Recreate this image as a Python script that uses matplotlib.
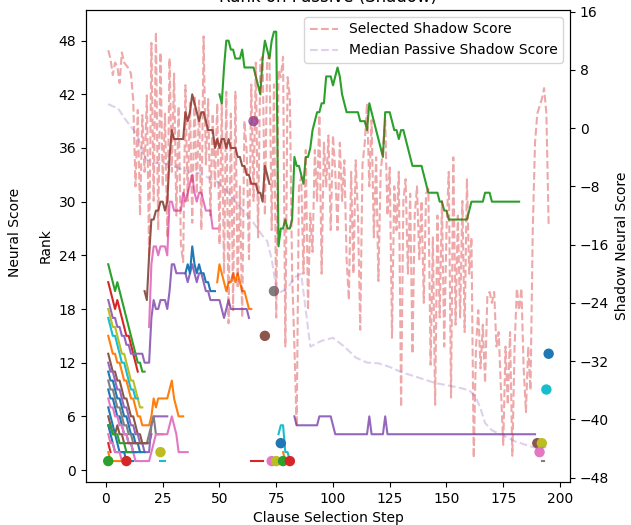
import numpy as np
import matplotlib
matplotlib.use('Agg')
import matplotlib.pyplot as plt
from matplotlib.lines import Line2D

# 数据: selected shadow score, one value per step (1..195)
select_score = [
    10.7, 9.5, 7.3, 9.0, 8.5, 6.2, 10.4, 9.0, 8.6, 8.2, 7.5, 3.8,
    -8.0, 2.5, -12.0, 1.8, -6.0, 4.5, -17.7, 11.7,
    -10.0, 13.2, -14.0, 10.4, -8.0, 2.0, -15.0, 9.6, -6.0, 7.5,
    -12.0, 3.0, -16.0, -18.4, 5.9, -10.0, 3.5, -13.0, 4.5, -9.0,
    3.8, -14.0, 12.6, -5.0, 4.0, -12.0, 2.0, -8.0, 3.4, -16.0,
    3.4, -20.0, 5.0, -26.8, 2.0, -25.0, 5.0, -22.0, -8.0, -26.0,
    1.0, -3.3, -18.0, 6.0, -10.0, 9.0, -15.0, 9.3, 9.8, -12.0,
    9.3, 10.0, -14.0, 6.0, -26.0, 8.0, 7.0, 9.8, -30.0, 7.0,
    4.3, -20.0, -30.0, -41.0, -8.0, -6.7, -20.0, -3.0, -25.0, -11.7,
    -17.0, -3.0, -10.0, 1.8, -20.0, -2.0, -8.0, -1.0, -14.0, -1.0,
    -6.0, -14.0, -2.0, -10.0, -4.4, -18.0, -23.6, -6.0, -20.0, -4.4,
    -12.0, -27.7, -5.0, -2.0, 3.4, -8.0, 1.1, -15.0, -4.0, -21.0,
    -6.0, -3.0, 1.1, -12.0, -5.4, -28.8, -8.0, -14.0, -6.0, -38.3,
    -10.0, -7.0, -20.0, -9.0, -31.0, -12.0, -8.0, -18.0, -10.0, -24.0,
    -9.0, -8.3, -32.5, -15.0, -38.0, -12.0, -26.0, -10.0, -30.0, -14.0,
    -6.0, -37.0, -4.0, -27.0, -12.0, -26.0, -10.0, -28.0, -6.9, -20.0,
    -15.0, -45.3, -30.0, -25.0, -33.0, -27.0, -35.0, -23.0, -22.5, -24.0,
    -22.5, -30.0, -28.0, -36.0, -43.5, -30.0, -38.0, -28.0, -45.0, -30.0,
    -22.0, -25.0, -22.0, -33.0, -39.0, -30.0, -36.0, -14.0, -2.0, 2.0,
    3.0, 4.0, 5.5, 2.0, -13.3,
]

# median passive shadow score
median_steps = [1, 3, 5, 6, 9, 11, 14, 16, 18, 21, 25, 29, 33, 37, 41, 45, 49, 53, 57,
                61, 65, 69, 71, 73, 75, 77, 80, 83, 86, 88, 90, 95, 100, 105, 110, 115,
                120, 125, 130, 135, 140, 145, 150, 155, 160, 163, 165, 167, 170, 175,
                180, 185, 190, 194]
median_score = [3.3, 3.0, 2.8, 2.4, 1.0, 0.2, -1.0, -3.5, -4.3, -4.8, -4.8, -5.1, -5.6,
                -6.0, -6.2, -6.8, -7.4, -8.5, -10.0, -11.5, -13.0, -14.8, -15.5, -18.0,
                -22.0, -22.5, -22.0, -20.5, -20.0, -25.0, -30.0, -29.2, -28.8, -30.0,
                -31.5, -32.2, -32.3, -32.8, -33.5, -34.0, -34.5, -35.0, -35.3, -35.6,
                -36.0, -37.0, -38.5, -40.5, -41.5, -42.2, -43.0, -43.5, -44.0, -43.8]

# rank of each passive clause: first step, ranks per step
path_start = [1, 1, 1, 1, 1, 1, 1, 1, 1, 1, 1, 1, 1, 1, 1, 1, 1, 1, 1,
              24, 17, 19, 35, 49, 50, 64, 76, 78, 83, 192]
path_rank = [
    [23, 22, 21, 20, 21, 20, 19, 18, 17, 16, 15, 14, 13, 12, 12, 11, 11],
    [21, 20, 19, 18, 19, 18, 17, 16, 15, 15, 14, 13, 12, 11],
    [19, 18, 17, 17, 16, 16, 15, 15, 14, 14, 13, 13, 13, 13, 13, 13, 12, 12, 12, 17,
     19, 18, 18, 19, 19, 19, 18, 20, 23, 23, 22, 22, 22, 22, 22, 21, 22, 23, 22, 21,
     22, 22, 21, 20, 20, 19, 19, 19, 19, 19, 18, 17, 18, 19, 18, 18, 18, 18, 18, 18,
     18, 18, 17],
    [18, 17, 16, 16, 15, 14, 13, 13, 12, 11, 10, 10, 9, 8, 7, 7],
    [17, 16, 15, 15, 14, 13, 12, 12, 11, 10, 9, 9, 8, 8],
    [15, 14, 13, 13, 12, 12, 11, 10, 10, 9, 8, 8, 7, 6, 6, 5, 5, 5, 5, 6,
     8, 7, 8, 8, 8, 8, 8, 9, 10, 8, 7, 6, 6, 6],
    [13, 12, 11, 11, 10, 10, 9, 8, 8, 7, 6, 6, 5, 4, 4, 3, 3, 3, 3, 4],
    [12, 11, 11, 10, 9, 9, 8, 7, 7, 6, 5, 5, 4, 4, 3, 3, 2, 2, 2, 5, 6, 6, 6, 6, 6, 6, 6],
    [11, 10, 10, 9, 8, 8, 7, 6, 6, 5, 4, 4, 3, 3, 2, 2, 2],
    [10, 9, 9, 8, 7, 7, 6, 5, 5, 4, 4, 3, 3, 3, 3, 3, 3, 3, 4, 5, 6, 4, 4, 4, 4],
    [9, 8, 8, 7, 6, 6, 5, 4, 4, 3, 3, 2, 2, 2, 2],
    [8, 7, 7, 6, 6, 5, 5, 4, 4, 3, 3, 2, 1, 1, 1, 1, 1, 1, 1, 2,
     3, 4, 4, 4, 4, 4, 4, 5, 6, 5, 4, 2, 2, 2, 2, 2],
    [7, 6, 5, 4, 3, 2, 2, 2, 2, 2, 2, 2, 2],
    [6, 5, 4, 4, 5, 4, 4, 3, 3, 3, 3, 3, 3, 3, 3, 3, 3, 3],
    [5, 4, 3, 2, 2, 2, 2, 2, 1, 1, 1, 1],
    [5, 5, 4, 4, 4, 3, 3, 3, 2, 2, 2],
    [4, 3, 3, 2, 2, 2, 1, 1],
    [3, 2],
    [2, 1, 1, 1, 1, 1, 1, 1, 1],
    [1, 1, 1],
    [20, 19, 24, 28, 28, 29, 29, 30, 30, 29, 30, 35, 38, 37, 37, 37, 37, 37, 40, 39,
     40, 42, 41, 40, 39, 40, 40, 39, 38, 38, 38, 36, 37, 36, 37, 37, 36, 37, 36, 36,
     36, 35, 35, 34, 34, 33, 33, 32, 32, 32, 31, 31, 30, 34, 33, 32],
    [16, 23, 25, 25, 24, 25, 25, 25, 24, 30, 30, 29, 29, 29, 29, 31, 30, 31, 32, 33,
     31, 30, 31, 31, 30, 29, 29, 29, 27, 27, 27],
    [22, 23, 22, 25, 23, 22, 23, 22, 22, 21, 21, 20, 20, 20],
    [21, 23, 22, 21, 20, 21, 21, 22, 21, 22, 21, 20, 20, 19, 18, 18],
    [42, 41, 45, 48, 48, 47, 47, 46, 46, 46, 47, 45, 45, 45, 45, 45, 44, 43, 42, 46,
     48, 47, 46, 48, 49, 49, 25, 27, 27, 28, 27, 27, 28, 35, 34, 34, 33, 32, 35, 35,
     36, 38, 39, 40, 40, 41, 41, 44, 44, 44, 43, 44, 45, 44, 42, 41, 40, 40, 40, 40,
     40, 40, 39, 39, 39, 38, 41, 40, 39, 38, 37, 36, 35, 40, 40, 40, 39, 38, 38, 37,
     38, 38, 37, 36, 35, 34, 34, 34, 34, 34, 33, 32, 31, 31, 31, 31, 31, 30, 30, 29,
     29, 28, 28, 28, 28, 28, 28, 28, 28, 28, 29, 30, 30, 30, 30, 30, 30, 31, 31, 31,
     30, 30, 30, 30, 30, 30, 30, 30, 30, 30, 30, 30, 30],
    [1, 1, 1, 1, 1, 1],
    [4, 5, 5, 2, 2, 1],
    [2, 1],
    [6, 5, 5, 5, 5, 5, 5, 5, 5, 5, 5, 6, 6, 6, 6, 6, 6, 5, 4, 4,
     4, 4, 4, 4, 4, 4, 4, 4, 4, 4, 4, 4, 4, 6, 4, 4, 4, 4, 4, 4,
     6, 4, 4, 4, 4, 4, 4, 4, 4, 4, 4, 4, 4, 4, 4, 4, 4, 4, 4, 4,
     4, 4, 4, 4, 4, 4, 4, 4, 4, 4, 4, 4, 4, 4, 4, 4, 4, 4, 4, 4,
     4, 4, 4, 4, 4, 4, 4, 4, 4, 4, 4, 4, 4, 4, 4, 4, 4, 4, 4, 4,
     4, 4, 4, 4, 4, 4, 4],
    [1, 1],
]
path_color = ['green', 'red', 'purple', 'olive', 'cyan', 'orange', 'brown', 'purple',
              'blue', 'gray', 'blue', 'pink', 'blue', 'brown', 'blue', 'green', 'pink',
              'red', 'orange', 'cyan', 'brown', 'pink', 'blue', 'orange', 'green', 'red',
              'cyan', 'orange', 'purple', 'gray']

# selected clauses
dot_step = [1, 9, 24, 65, 70, 74, 77, 73, 75, 78, 81, 195, 194, 190, 192, 191]
dot_rank = [1, 1, 2, 39, 15, 20, 3, 1, 1, 1, 1, 13, 9, 3, 3, 2]
dot_color = ['green', 'red', 'olive', 'purple', 'brown', 'gray', 'blue', 'pink', 'olive',
             'green', 'red', 'blue', 'cyan', 'brown', 'olive', 'pink']

fig = plt.figure(figsize=(6.31, 5.25), dpi=100)
ax = fig.add_axes([0.1363, 0.0819, 0.767, 0.8991])

for s, r, c in zip(path_start, path_rank, path_color):
    steps = np.arange(s, s + len(r))
    ax.plot(steps, r, color='tab:' + c, lw=1.5)
ax.scatter(dot_step, dot_rank, c=['tab:' + c for c in dot_color], s=42, zorder=3)

ax.set_xlim(-8.8, 204.4)
ax.set_ylim(-1.34, 51.43)
ax.set_xticks(range(0, 201, 25))
ax.set_yticks(range(0, 49, 6))
ax.set_xlabel('Clause Selection Step')
ax.set_ylabel('Rank')
ax.set_title('Rank on Passive (Shadow)')

ax2 = ax.twinx()
ax2.plot(np.arange(1, len(select_score) + 1), select_score, '--', color='tab:red',
         alpha=0.4, lw=1.5, label='Selected Shadow Score')
ax2.plot(median_steps, median_score, '--', color='tab:purple', alpha=0.3, lw=1.5,
         label='Median Passive Shadow Score')
ax2.set_ylim(-48.6, 16.23)
ax2.set_yticks(range(-48, 17, 8))
ax2.set_ylabel('Shadow Neural Score')
ax2.legend(loc='upper right')

fig.text(15 / 631, 1 - 232 / 525, 'Neural Score', rotation=90, ha='center', va='center',
         fontsize=10)

fig.savefig('out.png', dpi=100)
